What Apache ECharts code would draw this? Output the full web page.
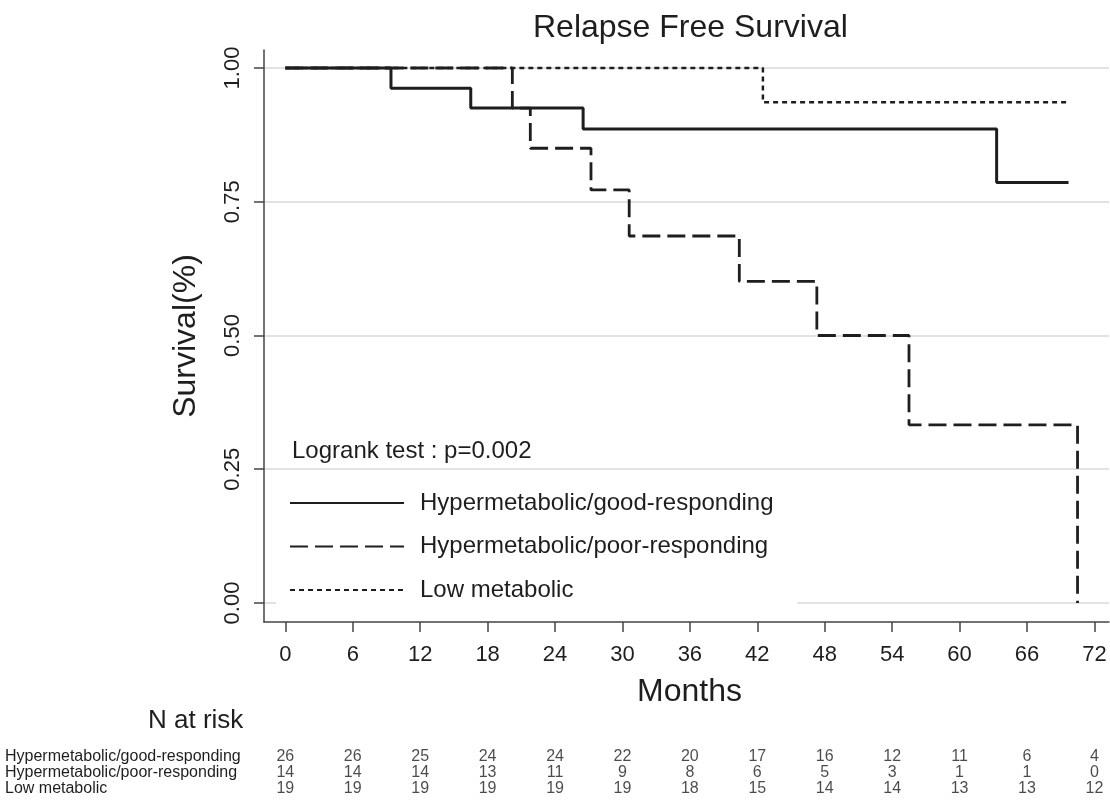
<!DOCTYPE html>
<html>
<head>
<meta charset="utf-8">
<script src="https://cdn.jsdelivr.net/npm/echarts@6/dist/echarts.min.js"></script>
<style>
html,body{margin:0;padding:0;background:#fff;}
#chart{width:1110px;height:803px;}
</style>
</head>
<body>
<div id="chart"></div>
<script>
// ---- data ----
var monthTicks = [0, 6, 12, 18, 24, 30, 36, 42, 48, 54, 60, 66, 72];
var yTicks = [0, 0.25, 0.5, 0.75, 1];

var goodMonths = [0, 9.4, 16.5, 26.5, 63.3, 69.7];
var goodSurv   = [1, 0.962, 0.925, 0.886, 0.786, 0.786];

var poorMonths = [0, 20.2, 21.8, 27.2, 30.6, 40.4, 47.3, 55.5, 70.5];
var poorSurv   = [1, 0.925, 0.850, 0.772, 0.686, 0.601, 0.500, 0.333, 0];

var lowMonths = [0, 42.5, 69.7];
var lowSurv   = [1, 0.936, 0.936];

var groupNames = ['Hypermetabolic/good-responding', 'Hypermetabolic/poor-responding', 'Low metabolic'];
var riskGood = [26, 26, 25, 24, 24, 22, 20, 17, 16, 12, 11, 6, 4];
var riskPoor = [14, 14, 14, 13, 11, 9, 8, 6, 5, 3, 1, 1, 0];
var riskLow  = [19, 19, 19, 19, 19, 19, 18, 15, 14, 14, 13, 13, 12];

// ---- build ----
function pairs(xs, ys) { return xs.map(function (x, i) { return [x, ys[i]]; }); }
var riskRows = [riskGood, riskPoor, riskLow];
var riskData = [];
riskRows.forEach(function (row, r) {
  row.forEach(function (n, i) { riskData.push([monthTicks[i], groupNames[r], n]); });
});

var FONT = 'Liberation Sans, Arial, Helvetica, sans-serif';
var INK = '#1e1e1e';
var X_MIN = -1.9, X_MAX = 73.3;

var chart = echarts.init(document.getElementById('chart'), null, {renderer: 'canvas'});
chart.setOption({
  backgroundColor: '#fff',
  animation: false,
  textStyle: {fontFamily: FONT},
  title: [
    {text: 'Relapse Free Survival', left: 528, top: 7,
     textStyle: {fontFamily: FONT, fontSize: 32, fontWeight: 'normal', color: INK}},
    {text: 'Logrank test : p=0.002', left: 287, top: 434,
     textStyle: {fontFamily: FONT, fontSize: 24, fontWeight: 'normal', color: INK}},
    {text: 'N at risk', left: 143, top: 703,
     textStyle: {fontFamily: FONT, fontSize: 26, fontWeight: 'normal', color: INK}}
  ],
  legend: {
    orient: 'vertical',
    left: 276, top: 479,
    padding: [12, 24, 10, 13],
    backgroundColor: '#fff',
    itemWidth: 114, itemHeight: 20, itemGap: 19.5,
    itemStyle: {opacity: 0},
    data: [groupNames[0], groupNames[1], groupNames[2]],
    textStyle: {fontFamily: FONT, fontSize: 24, color: INK, padding: [0, 0, 0, 11]}
  },
  grid: [
    {left: 264, right: 1, top: 50, height: 572, containLabel: false},
    {left: 264, right: 1, top: 749, height: 48, containLabel: false}
  ],
  xAxis: [
    {
      type: 'value', gridIndex: 0, min: X_MIN, max: X_MAX,
      name: 'Months', nameLocation: 'middle', nameGap: 54,
      nameTextStyle: {fontFamily: FONT, fontSize: 32, color: INK, padding: [0, 0, 0, 6]},
      axisLine: {show: true, onZero: false, lineStyle: {color: '#444', width: 1.5}},
      axisTick: {show: true, length: 10, customValues: monthTicks, lineStyle: {color: '#444', width: 1.5}},
      axisLabel: {show: true, customValues: monthTicks, margin: 22, fontSize: 22, color: INK, fontFamily: FONT},
      splitLine: {show: false}
    },
    {
      type: 'value', gridIndex: 1, min: X_MIN, max: X_MAX,
      axisLine: {show: false}, axisTick: {show: false}, axisLabel: {show: false}, splitLine: {show: false}
    }
  ],
  yAxis: [
    {
      type: 'value', gridIndex: 0, min: -0.0355, max: 1.0336,
      name: 'Survival(%)', nameLocation: 'middle', nameGap: 62, nameRotate: 90,
      nameTextStyle: {fontFamily: FONT, fontSize: 32, color: INK},
      axisLine: {show: true, onZero: false, lineStyle: {color: '#444', width: 1.5}},
      axisTick: {show: true, length: 10, customValues: yTicks, lineStyle: {color: '#444', width: 1.5}},
      axisLabel: {
        show: true, customValues: yTicks, rotate: 90, margin: 20,
        align: 'center', verticalAlign: 'bottom',
        fontSize: 22, color: INK, fontFamily: FONT,
        formatter: function (v) { return v.toFixed(2); }
      },
      splitLine: {show: true, lineStyle: {color: '#e2e2e2', width: 2}}
    },
    {
      type: 'category', gridIndex: 1, inverse: true, data: groupNames,
      axisLine: {show: false}, axisTick: {show: false}, splitLine: {show: false},
      axisLabel: {show: true, interval: 0, hideOverlap: false, align: 'left', margin: 259,
                  fontSize: 16, color: INK, fontFamily: FONT}
    }
  ],
  series: [
    {
      name: groupNames[2], type: 'line', step: 'end', symbol: 'none',
      xAxisIndex: 0, yAxisIndex: 0, z: 3,
      data: pairs(lowMonths, lowSurv),
      lineStyle: {color: INK, width: 2.5, type: [5, 4]},
      itemStyle: {color: INK}
    },
    {
      name: groupNames[1], type: 'line', step: 'end', symbol: 'none',
      xAxisIndex: 0, yAxisIndex: 0, z: 4,
      data: pairs(poorMonths, poorSurv),
      lineStyle: {color: INK, width: 2.8, type: [18, 7]},
      itemStyle: {color: INK}
    },
    {
      name: groupNames[0], type: 'line', step: 'end', symbol: 'none',
      xAxisIndex: 0, yAxisIndex: 0, z: 5,
      data: pairs(goodMonths, goodSurv),
      lineStyle: {color: INK, width: 3, type: 'solid'},
      itemStyle: {color: INK}
    },
    {
      name: 'N at risk', type: 'scatter', xAxisIndex: 1, yAxisIndex: 1,
      symbolSize: 0, silent: true,
      data: riskData,
      label: {show: true, position: 'inside', fontSize: 16, color: INK, fontFamily: FONT,
              formatter: function (p) { return String(p.value[2]); }}
    }
  ]
});
</script>
</body>
</html>
